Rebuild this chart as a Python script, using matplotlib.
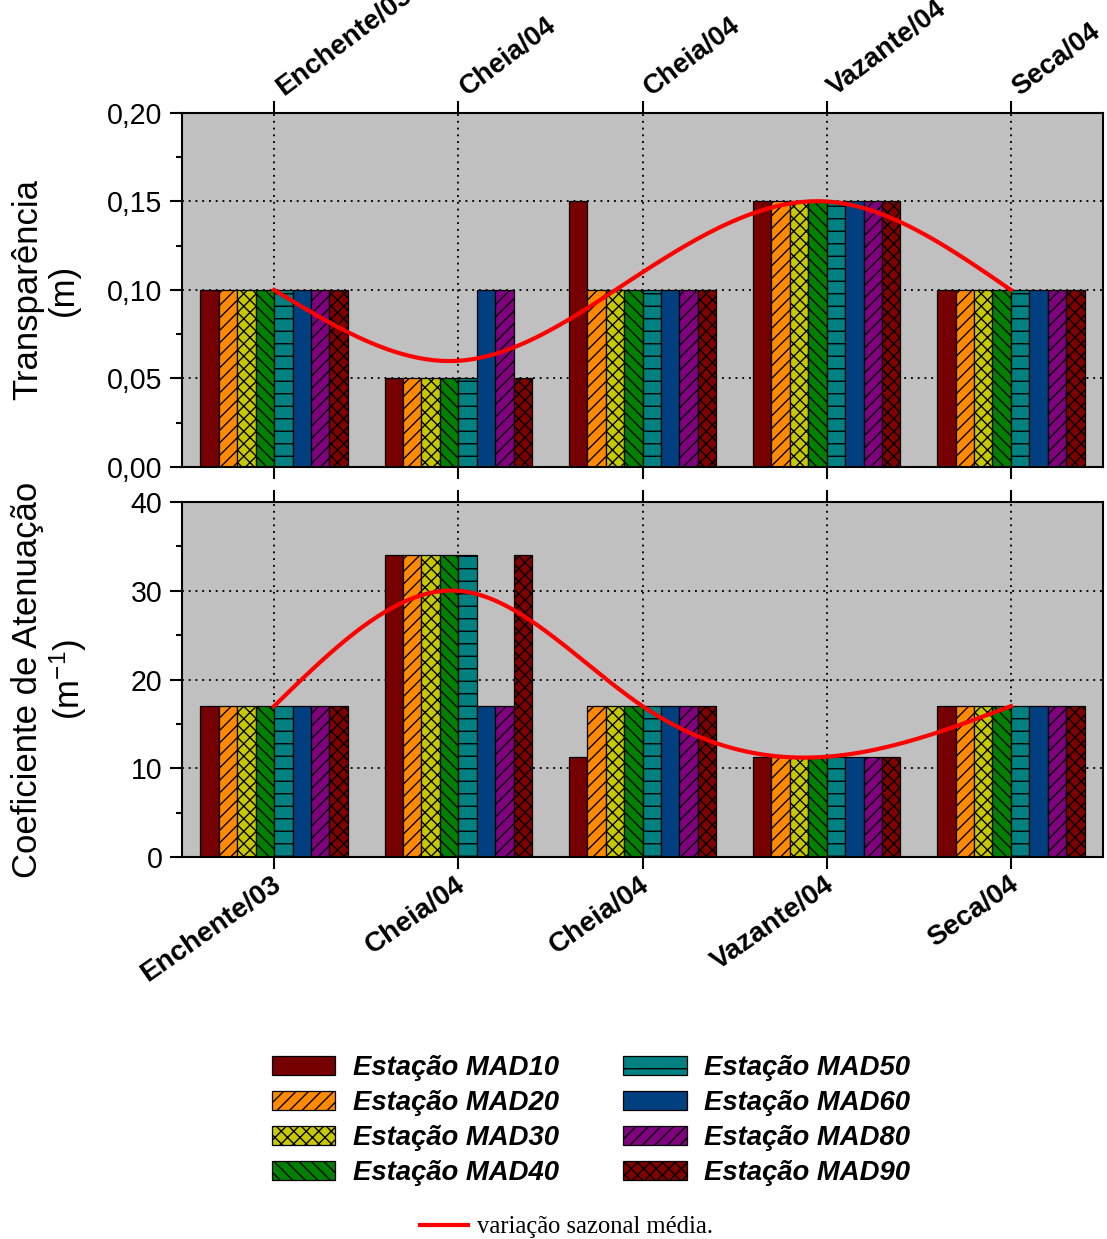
import numpy as np
import matplotlib.pyplot as plt
from matplotlib.patches import Patch
from matplotlib.lines import Line2D
from matplotlib.ticker import MultipleLocator, FuncFormatter
import matplotlib.transforms as mtransforms

plt.rcParams['font.family'] = ['Liberation Sans', 'DejaVu Sans']
plt.rcParams['mathtext.fontset'] = 'custom'
plt.rcParams['mathtext.rm'] = 'Liberation Sans'
plt.rcParams['mathtext.it'] = 'Liberation Sans:italic'
plt.rcParams['hatch.color'] = 'black'
plt.rcParams['hatch.linewidth'] = 0.65

# periodos de coleta
periodos = ['Enchente/03', 'Cheia/04', 'Cheia/04', 'Vazante/04', 'Seca/04']

# transparencia (m) por estacao
transp_mad10 = [0.10, 0.05, 0.15, 0.15, 0.10]
transp_mad20 = [0.10, 0.05, 0.10, 0.15, 0.10]
transp_mad30 = [0.10, 0.05, 0.10, 0.15, 0.10]
transp_mad40 = [0.10, 0.05, 0.10, 0.15, 0.10]
transp_mad50 = [0.10, 0.05, 0.10, 0.15, 0.10]
transp_mad60 = [0.10, 0.10, 0.10, 0.15, 0.10]
transp_mad80 = [0.10, 0.10, 0.10, 0.15, 0.10]
transp_mad90 = [0.10, 0.05, 0.10, 0.15, 0.10]

# coeficiente de atenuacao (m-1) por estacao
coef_mad10 = [17, 34, 11.3, 11.3, 17]
coef_mad20 = [17, 34, 17, 11.3, 17]
coef_mad30 = [17, 34, 17, 11.3, 17]
coef_mad40 = [17, 34, 17, 11.3, 17]
coef_mad50 = [17, 34, 17, 11.3, 17]
coef_mad60 = [17, 17, 17, 11.3, 17]
coef_mad80 = [17, 17, 17, 11.3, 17]
coef_mad90 = [17, 34, 17, 11.3, 17]

# variacao sazonal media
sazonal_transp = [0.10, 0.06, 0.11, 0.15, 0.10]
sazonal_coef = [17, 30, 17, 11.3, 17]

estacoes = ['MAD10', 'MAD20', 'MAD30', 'MAD40', 'MAD50', 'MAD60', 'MAD80', 'MAD90']
cores = ['#760000', '#ff8a00', '#c8c800', '#008000', '#008080', '#004080', '#800080', '#800000']
hachuras = ['', '////', 'xxxx', '\\\\\\\\', '--', '', '////', 'xxxx']

transp = [transp_mad10, transp_mad20, transp_mad30, transp_mad40,
          transp_mad50, transp_mad60, transp_mad80, transp_mad90]
coef = [coef_mad10, coef_mad20, coef_mad30, coef_mad40,
        coef_mad50, coef_mad60, coef_mad80, coef_mad90]


def spline_natural(x, y, xs):
    # spline cubica natural para suavizar a curva sazonal
    x = np.asarray(x, float)
    y = np.asarray(y, float)
    n = len(x)
    h = np.diff(x)
    A = np.zeros((n, n))
    r = np.zeros(n)
    A[0, 0] = A[-1, -1] = 1
    for i in range(1, n - 1):
        A[i, i - 1] = h[i - 1]
        A[i, i] = 2 * (h[i - 1] + h[i])
        A[i, i + 1] = h[i]
        r[i] = 3 * ((y[i + 1] - y[i]) / h[i] - (y[i] - y[i - 1]) / h[i - 1])
    c = np.linalg.solve(A, r)
    b = (y[1:] - y[:-1]) / h - h * (2 * c[:-1] + c[1:]) / 3
    d = (c[1:] - c[:-1]) / (3 * h)
    idx = np.clip(np.searchsorted(x, xs) - 1, 0, n - 2)
    dx = xs - x[idx]
    return y[idx] + b[idx] * dx + c[idx] * dx ** 2 + d[idx] * dx ** 3


fig = plt.figure(figsize=(7.38, 8.26), dpi=150)
ax1 = fig.add_axes([0.1644, 0.6231, 0.832, 0.2857])
ax2 = fig.add_axes([0.1644, 0.3083, 0.832, 0.2865])

x = np.arange(len(periodos))
largura = 0.1
xs = np.linspace(0, len(periodos) - 1, 300)

for ax, dados, sazonal in [(ax1, transp, sazonal_transp), (ax2, coef, sazonal_coef)]:
    ax.set_facecolor('#c0c0c0')
    for i, serie in enumerate(dados):
        ax.bar(x + (i - 3.5) * largura, serie, largura, color=cores[i],
               hatch=hachuras[i], edgecolor='black', linewidth=0.6, zorder=2)
    ax.plot(xs, spline_natural(x, sazonal, xs), color='red', lw=2.0, zorder=3)
    ax.set_xlim(-0.5, len(periodos) - 0.5)
    ax.set_xticks(x)
    ax.grid(True, which='major', color='black', linestyle=(0, (1, 2.6)), linewidth=0.9)
    ax.set_axisbelow(True)
    for s in ax.spines.values():
        s.set_linewidth(1.0)
    ax.tick_params(axis='both', which='major', direction='out', length=5.8, width=1.0,
                   labelsize=13.7)
    ax.tick_params(axis='y', which='minor', direction='out', length=2.9, width=1.0)
    ax.tick_params(axis='x', top=True, bottom=True)

ax1.set_ylim(0, 0.20)
ax1.yaxis.set_major_locator(MultipleLocator(0.05))
ax1.yaxis.set_minor_locator(MultipleLocator(0.025))
ax1.yaxis.set_major_formatter(FuncFormatter(lambda v, p: f'{v:.2f}'.replace('.', ',')))

ax2.set_ylim(0, 40)
ax2.yaxis.set_major_locator(MultipleLocator(10))
ax2.yaxis.set_minor_locator(MultipleLocator(5))

ax1.set_ylabel('Transparência\n(m)', fontsize=16.7, linespacing=1.1)
ax2.set_ylabel('Coeficiente de Atenuação\n(m$^{-1}$)', fontsize=16.7, linespacing=1.1)
ax1.yaxis.set_label_coords(-0.111, 0.5)
ax2.yaxis.set_label_coords(-0.101, 0.5)

# rotulos dos periodos: no topo do grafico superior e embaixo do inferior
ax1.set_xticklabels(periodos)
ax1.tick_params(axis='x', labeltop=True, labelbottom=False)
desloc_topo = mtransforms.ScaledTranslation(9 / 150, -3 / 150, fig.dpi_scale_trans)
for t in ax1.xaxis.get_major_ticks():
    t.label2.set_fontweight('bold')
    t.label2.set_fontsize(13.2)
    t.label2.set_rotation(37)
    t.label2.set_rotation_mode('anchor')
    t.label2.set_ha('left')
    t.label2.set_va('baseline')
    t.label2.set_transform(t.label2.get_transform() + desloc_topo)

ax2.set_xticklabels(periodos, fontsize=13.4, fontweight='bold', rotation=35,
                    ha='right', va='top', rotation_mode='anchor')
desloc = mtransforms.ScaledTranslation(-3 / 150, 5 / 150, fig.dpi_scale_trans)
for lbl in ax2.get_xticklabels():
    lbl.set_transform(lbl.get_transform() + desloc)

# legenda das estacoes
alcas = [Patch(facecolor=cores[i], hatch=hachuras[i], edgecolor='black', linewidth=0.6)
         for i in range(len(estacoes))]
fig.legend(alcas, ['Estação ' + e for e in estacoes], ncol=2, frameon=False,
           loc='upper left', bbox_to_anchor=(272 / 1107, 1 - 1055 / 1239),
           borderpad=0, borderaxespad=0, handlelength=2.3, handleheight=0.66,
           handletextpad=0.64, columnspacing=2.35, labelspacing=0.33,
           prop={'size': 13.2, 'weight': 'bold', 'style': 'italic'})

fig.legend([Line2D([], [], color='red', lw=2.0)], ['variação sazonal média.'],
           frameon=False, loc='center left',
           bbox_to_anchor=(420 / 1107, 1 - 1227 / 1239),
           borderpad=0, borderaxespad=0, handlelength=1.95, handletextpad=0.37,
           prop={'family': 'Liberation Serif', 'size': 11.8})

fig.savefig('out.png', dpi=150)
